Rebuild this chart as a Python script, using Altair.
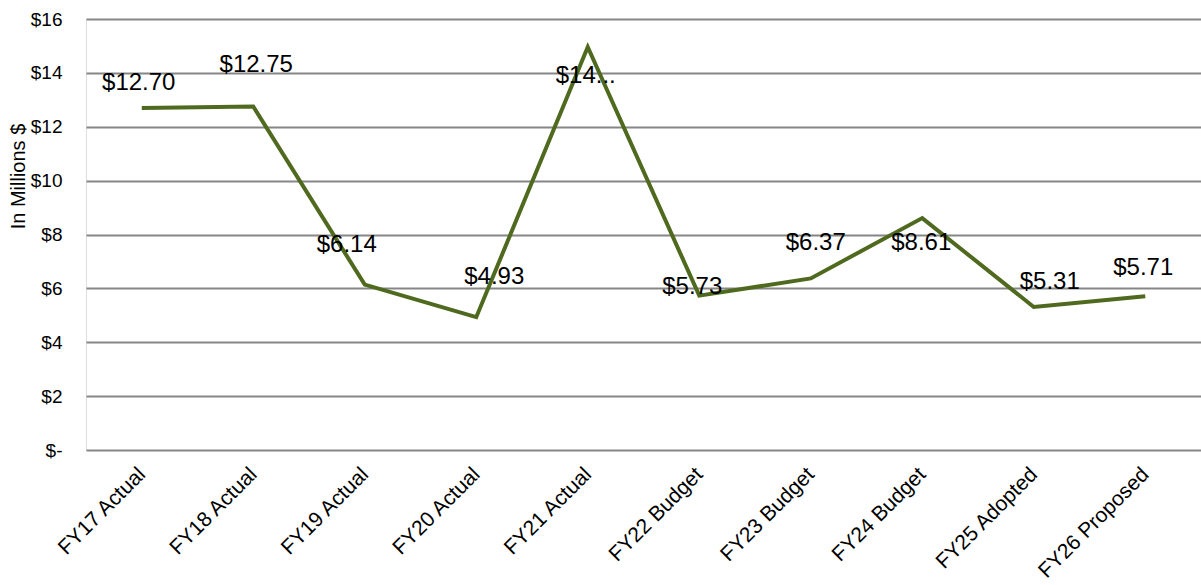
import altair as alt
import pandas as pd

categories = ["FY17 Actual", "FY18 Actual", "FY19 Actual", "FY20 Actual", "FY21 Actual",
              "FY22 Budget", "FY23 Budget", "FY24 Budget", "FY25 Adopted", "FY26 Proposed"]
values = [12.70, 12.75, 6.14, 4.93, 14.96, 5.73, 6.37, 8.61, 5.31, 5.71]
labels = ["$12.70", "$12.75", "$6.14", "$4.93", "$14...", "$5.73", "$6.37", "$8.61", "$5.31", "$5.71"]

# label offsets (style only, in pixels)
label_dx = [-3, 3, -18, 18, -2, -7, 5, -1, 16, -2]
label_dy = [-25, -42, -40, -40, 29, -9, -35, 25, -25, -28]

df = pd.DataFrame({"cat": categories, "val": values, "lab": labels})

FONT = "Liberation Sans"
LINE = "#4F6A1F"

x_enc = alt.X("cat:N", sort=categories, title=None,
              scale=alt.Scale(type="point", padding=0.5),
              axis=alt.Axis(labelAngle=-45, labelAlign="right", labelBaseline="middle",
                            labelFontSize=21, labelFont=FONT, labelColor="#000000",
                            labelPadding=21, ticks=False, domain=False, grid=False))
y_enc = alt.Y("val:Q", title="In Millions $",
              scale=alt.Scale(domain=[0, 16], nice=False, zero=True),
              axis=alt.Axis(values=list(range(0, 17, 2)),
                            labelExpr="datum.value == 0 ? '$-' : '$' + datum.value",
                            labelFontSize=19, labelFont=FONT, labelColor="#000000",
                            labelPadding=24, ticks=False, domain=False,
                            grid=True, gridColor="#868686", gridWidth=2,
                            titleFont=FONT, titleFontSize=20, titleFontWeight="normal",
                            titleColor="#000000", titleAngle=-90, titleX=-68, titleY=157,
                            titleAlign="center", titleBaseline="middle"))

base = alt.Chart(df)
line = base.mark_line(color=LINE, strokeWidth=4).encode(x=x_enc, y=y_enc)

texts = []
for i in range(len(categories)):
    t = alt.Chart(df.iloc[[i]]).mark_text(
        font=FONT, fontSize=24, color="#000000", dx=label_dx[i], dy=label_dy[i],
        align="center", baseline="middle"
    ).encode(x=alt.X("cat:N", sort=categories), y=alt.Y("val:Q"), text="lab:N")
    texts.append(t)

chart = alt.layer(line, *texts).properties(
    width=1115, height=431,
    autosize=alt.AutoSizeParams(type="none"),
    padding={"left": 86, "top": 19, "right": 0, "bottom": 135},
).configure_view(stroke=None).configure(background="white")

chart.save("out.html", embed_options={"renderer": "svg", "actions": False})
